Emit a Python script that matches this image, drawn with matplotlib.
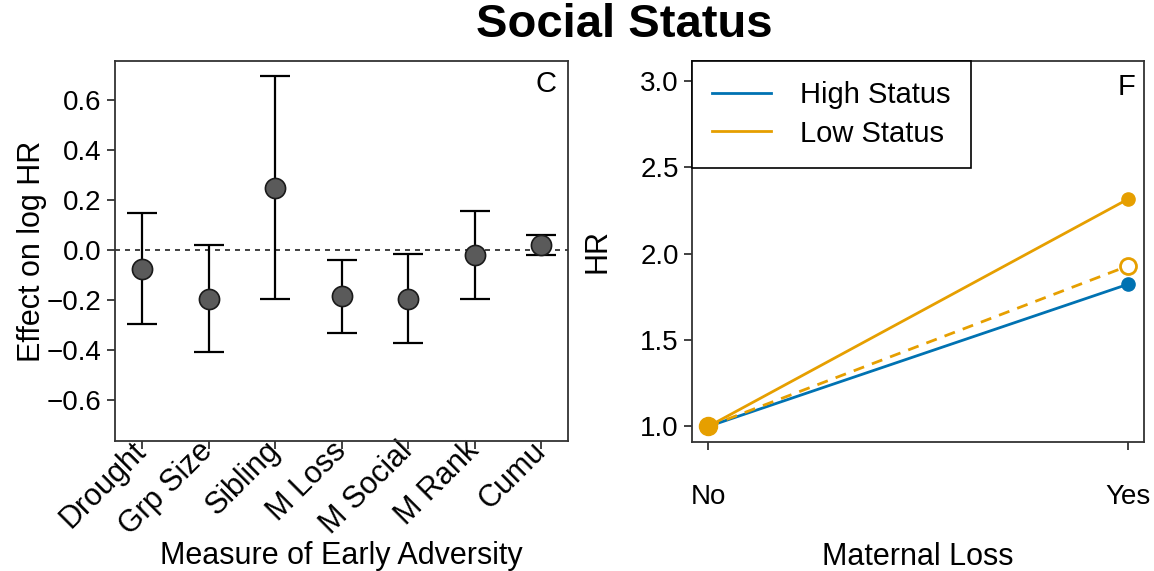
import matplotlib
matplotlib.use("Agg")
import matplotlib.pyplot as plt
import numpy as np

plt.rcParams["font.family"] = ["Liberation Sans", "DejaVu Sans"]

# panel C: effect of each early adversity measure on log HR
measures = ["Drought", "Grp Size", "Sibling", "M Loss", "M Social", "M Rank", "Cumu"]
effect = [-0.074, -0.193, 0.249, -0.184, -0.193, -0.020, 0.021]
ci_low = [-0.294, -0.406, -0.196, -0.330, -0.372, -0.196, -0.017]
ci_high = [0.148, 0.020, 0.696, -0.037, -0.013, 0.158, 0.060]

# panel F: HR by maternal loss and status
loss_levels = ["No", "Yes"]
hr_high = [1.0, 1.823]
hr_low = [1.0, 2.316]
hr_low_dashed = [1.0, 1.929]

blue = "#0072B2"
orange = "#E69F00"
tick_fs = 20
label_fs = 22

fig = plt.figure(figsize=(11.54, 5.71), dpi=100)
ax1 = fig.add_axes([0.0997, 0.2277, 0.3925, 0.6655])
ax2 = fig.add_axes([0.5997, 0.2260, 0.3917, 0.6672])

# ---- left panel
x = np.arange(1, len(measures) + 1)
eff = np.array(effect)
yerr = [eff - np.array(ci_low), np.array(ci_high) - eff]
ax1.axhline(0, color="#222222", ls=(0, (3, 3)), lw=1.2, zorder=1)
ax1.errorbar(x, eff, yerr=yerr, fmt="none", ecolor="black", elinewidth=1.6,
             capsize=11, capthick=1.6, zorder=2)
ax1.plot(x, eff, "o", ms=14.5, mfc="#5a5a5a", mec="#1a1a1a", mew=1.2, zorder=3)
ax1.set_xlim(0.594, 7.406)
ax1.set_ylim(-0.762, 0.758)
ax1.set_yticks([-0.6, -0.4, -0.2, 0.0, 0.2, 0.4, 0.6])
ax1.set_yticklabels(["\u22120.6", "\u22120.4", "\u22120.2", "0.0", "0.2", "0.4", "0.6"])
ax1.set_xticks(x)
ax1.set_xticklabels(measures, rotation=45, ha="right", va="center",
                    rotation_mode="anchor", fontsize=22)
ax1.set_ylabel("Effect on log HR", fontsize=label_fs)
ax1.yaxis.set_label_coords(-0.15, 0.5)
ax1.set_xlabel("Measure of Early Adversity", fontsize=label_fs)
ax1.xaxis.set_label_coords(0.5, -0.262)
ax1.text(0.975, 0.975, "C", transform=ax1.transAxes, ha="right", va="top", fontsize=21)

# ---- right panel
xs = np.arange(len(loss_levels))
ax2.plot(xs, hr_high, color=blue, lw=2, label="High Status", zorder=2)
ax2.plot(xs, hr_low, color=orange, lw=2, label="Low Status", zorder=3)
ax2.plot(xs, hr_low_dashed, color=orange, lw=2, ls=(0, (4, 3)), zorder=2)
ax2.plot(xs[1], hr_high[1], "o", color=blue, ms=9.5, zorder=4)
ax2.plot(xs[1], hr_low[1], "o", color=orange, ms=9.5, zorder=4)
ax2.plot(xs[1], hr_low_dashed[1], "o", mfc="white", mec=orange, mew=2, ms=11.5, zorder=4)
ax2.plot(xs[0], hr_low[0], "o", color=orange, ms=13, zorder=5)
ax2.set_xlim(-0.039, 1.038)
ax2.set_ylim(0.91, 3.115)
ax2.set_yticks([1.0, 1.5, 2.0, 2.5, 3.0])
ax2.set_yticklabels(["1.0", "1.5", "2.0", "2.5", "3.0"])
ax2.set_xticks(xs)
ax2.set_xticklabels(loss_levels)
ax2.tick_params(axis="x", pad=24)
ax2.set_ylabel("HR", fontsize=label_fs)
ax2.yaxis.set_label_coords(-0.175, 0.5)
ax2.set_xlabel("Maternal Loss", fontsize=label_fs)
ax2.xaxis.set_label_coords(0.5, -0.262)
ax2.text(0.98, 0.968, "F", transform=ax2.transAxes, ha="right", va="top", fontsize=21)
leg = ax2.legend(loc="upper left", bbox_to_anchor=(0, 1), borderaxespad=0, fontsize=21,
                 fancybox=False, framealpha=1, edgecolor="black", handlelength=2.0,
                 handletextpad=1.0, labelspacing=0.35, borderpad=0.7)
leg.get_frame().set_linewidth(1.2)

for ax in (ax1, ax2):
    for s in ax.spines.values():
        s.set_linewidth(1.3)
        s.set_color("#333333")
    ax.tick_params(labelsize=tick_fs, length=6, width=1.3, color="#333333")
ax1.tick_params(axis="x", labelsize=22, pad=-2)

fig.suptitle("Social Status", fontsize=34, fontweight="bold", x=0.541, y=0.995, va="top")

fig.savefig("out.png", dpi=100)
